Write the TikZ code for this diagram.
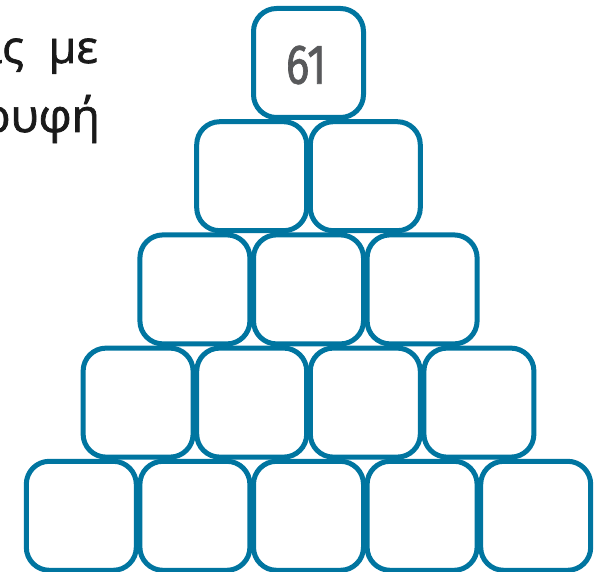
\documentclass[tikz,border=0pt]{standalone}
\usepackage{fontspec}
\setmainfont{Open Sans}
\newfontfamily\sidefont[FakeBold=1.6]{Open Sans}
\newfontfamily\numfont[FakeStretch=0.78,FakeBold=1.2]{Fira Sans}
\definecolor{boxblue}{HTML}{0075A0}
\definecolor{numgray}{HTML}{58595B}
\definecolor{txtblack}{HTML}{1A1A1A}
\begin{document}
\begin{tikzpicture}[x=1pt,y=-1pt,
  cell/.style={draw=boxblue, line width=5pt, rounded corners=23pt,
    minimum width=110pt, minimum height=109pt, inner sep=0pt, fill=white},
  numtext/.style={font=\numfont\fontsize{56}{56}\selectfont, text=numgray},
  sidetext/.style={font=\sidefont\fontsize{45}{45}\selectfont, text=txtblack, inner sep=0pt, anchor=base east}]
\useasboundingbox (0,0) rectangle (599,572);
\fill[white] (0,0) rectangle (599,572);
\def\cx{308.5}
\def\px{113.6}
\def\py{113.2}
% rows
\foreach \r in {5,4,3,2,1}{
  \foreach \i in {1,...,\r}{
    \pgfmathsetmacro{\xx}{\cx+(\i-(\r+1)/2)*\px}
    \pgfmathsetmacro{\yy}{63+(\r-1)*\py}
    \node[cell] (b\r\i) at (\xx,\yy) {};
  }
}
\node[numtext, anchor=center] (n61) at (306,65) {61};
\node[sidetext] (t1a) at (24,63) {ας};
\node[sidetext] (t1b) at (98,63) {με};
\node[sidetext, font=\sidefont\fontsize{46}{46}\selectfont] (t2) at (100,132) {ρυφή};
\end{tikzpicture}
\end{document}
